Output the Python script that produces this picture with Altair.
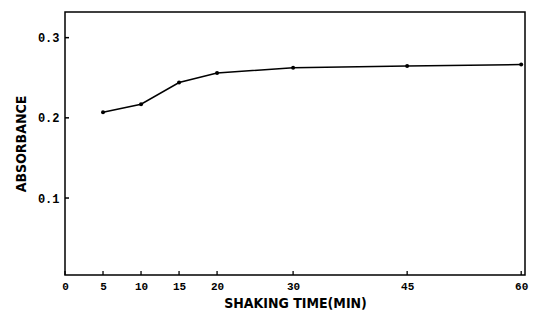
import altair as alt
import pandas as pd

# data
shaking_time = [5, 10, 15, 20, 30, 45, 60]
absorbance = [0.207, 0.217, 0.244, 0.256, 0.2625, 0.2645, 0.2665]
x_ticks = [0, 5, 10, 15, 20, 30, 45, 60]
y_ticks = [0.1, 0.2, 0.3]

df = pd.DataFrame({"t": shaking_time, "a": absorbance})
xt = pd.DataFrame({"t": x_ticks})
yt = pd.DataFrame({"a": y_ticks})

W, H = 460, 263
xscale = alt.Scale(domain=[0, 60.5], nice=False, zero=False)
yscale = alt.Scale(domain=[0.004, 0.332], nice=False, zero=False)

label_font = "Liberation Mono"
title_font = "DejaVu Sans Condensed"

x_axis = alt.Axis(
    values=x_ticks, title="SHAKING TIME(MIN)", grid=False, domain=False,
    ticks=False, labelPadding=5, labelFont=label_font, labelFontSize=11,
    labelFontWeight="bold", labelColor="black", titleFont=title_font,
    titleFontSize=14, titleFontWeight="bold", titleColor="black",
    titlePadding=5, labelFlush=False,
)
y_axis = alt.Axis(
    values=y_ticks, title="ABSORBANCE", grid=False, domain=False,
    ticks=False, labelPadding=6, labelFont=label_font, labelFontSize=12,
    labelFontWeight="bold", labelColor="black", format=".1f",
    titleFont=title_font, titleFontSize=14, titleFontWeight="bold",
    titleColor="black", titlePadding=9,
)

line = alt.Chart(df).mark_line(color="black", strokeWidth=1.5).encode(
    x=alt.X("t:Q", scale=xscale, axis=x_axis),
    y=alt.Y("a:Q", scale=yscale, axis=y_axis),
)
pts = alt.Chart(df).mark_circle(color="black", size=16, opacity=1).encode(
    x=alt.X("t:Q", scale=xscale),
    y=alt.Y("a:Q", scale=yscale),
)
xtick_marks = alt.Chart(xt).mark_rule(color="black", strokeWidth=1.3).encode(
    x=alt.X("t:Q", scale=xscale),
    y=alt.value(H),
    y2=alt.value(H - 4),
)
ytick_marks = alt.Chart(yt).mark_rule(color="black", strokeWidth=1.5).encode(
    y=alt.Y("a:Q", scale=yscale),
    x=alt.value(0),
    x2=alt.value(4),
)

chart = (
    alt.layer(line, pts, xtick_marks, ytick_marks)
    .properties(
        width=W, height=H,
        autosize=alt.AutoSizeParams(type="none"),
        padding={"left": 57, "top": 4, "right": 4, "bottom": 40},
    )
    .configure(background="white")
    .configure_view(stroke="black", strokeWidth=1.5)
)

chart.save("out.html", embed_options={"renderer": "svg", "actions": False})
